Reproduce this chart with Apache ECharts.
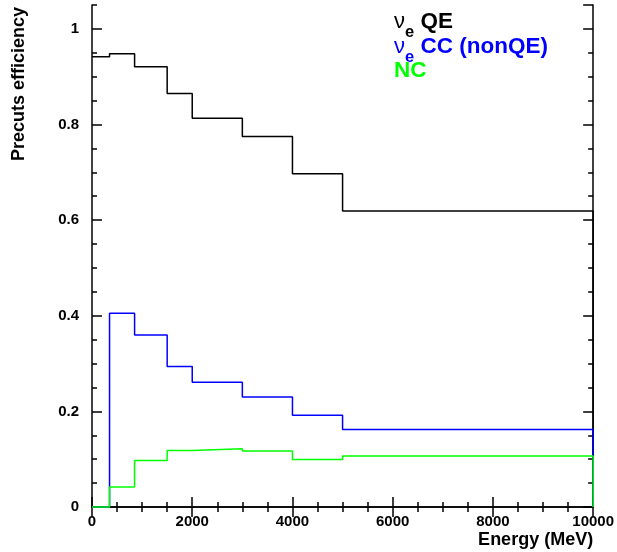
<!DOCTYPE html>
<html><head><meta charset="utf-8">
<script src="https://cdn.jsdelivr.net/npm/echarts@6/dist/echarts.min.js"></script>
<style>html,body{margin:0;padding:0;background:#fff}#c{width:617px;height:552px}</style>
</head><body><div id="c"></div>
<script>
// Histogram bin edges (MeV) and per-bin efficiencies
const binEdges = [0, 350, 850, 1500, 2000, 3000, 4000, 5000, 10000];
const qeEff = [0.9415, 0.948, 0.921, 0.865, 0.813, 0.775, 0.697, 0.619];
const ccEff = [0, 0.405, 0.360, 0.294, 0.261, 0.230, 0.192, 0.162];
const ncEff = [0, 0.042, 0.0975, 0.118, 0.122, 0.117, 0.0995, 0.1065];
const xTickLabels = ['0', '2000', '4000', '6000', '8000', '10000'];
const yTickLabels = ['0', '0.2', '0.4', '0.6', '0.8', '1'];
const seriesNames = ['νe QE', 'νe CC (nonQE)', 'NC'];
const seriesColors = ['#000000', '#0000ff', '#00ff00'];

const FONT = 'Liberation Sans, Arial, Helvetica, sans-serif';
const stepData = vals => binEdges.map((e, i) => [e, i < vals.length ? vals[i] : 0]);

const chart = echarts.init(document.getElementById('c'), null, {renderer: 'canvas'});
const lineAxis = {show: true, lineStyle: {color: '#000', width: 1.5}};
const yBase = {type: 'value', min: 0, max: 1.05, splitLine: {show: false}};
const xBase = {type: 'value', min: 0, max: 10000, interval: 2000, splitLine: {show: false}};

chart.setOption({
  animation: false,
  backgroundColor: '#fff',
  grid: {left: 92, right: 23, top: 5, bottom: 45},
  legend: {
    orient: 'vertical', left: 389, top: 9.5, padding: 0, itemGap: -6,
    itemWidth: 0, itemHeight: 0, icon: 'none', selectedMode: false,
    data: seriesNames.map((n, i) => ({name: n, textStyle: {color: seriesColors[i]}})),
    formatter: n => n.charAt(0) === 'ν'
      ? '{nu|ν}{sub|e}{b| ' + n.slice(3) + '}'
      : '{b|' + n + '}',
    textStyle: {
      fontFamily: FONT, fontSize: 22, fontWeight: 'bold',
      rich: {
        nu: {fontFamily: FONT, fontSize: 22, fontWeight: 'normal', lineHeight: 24},
        sub: {fontFamily: FONT, fontSize: 16.5, fontWeight: 'bold', lineHeight: 24, verticalAlign: 'top', padding: [14, 0, 0, 0]},
        b: {fontFamily: FONT, fontSize: 22.5, fontWeight: 'bold', lineHeight: 24}
      }
    }
  },
  xAxis: [
    Object.assign({}, xBase, {
      position: 'bottom',
      axisLine: lineAxis,
      axisTick: {inside: true, length: 10, lineStyle: {color: '#000', width: 1.5}},
      minorTick: {show: true, splitNumber: 4, length: 5, lineStyle: {color: '#000', width: 1.5}},
      axisLabel: {
        margin: 7, color: '#000', fontFamily: FONT, fontSize: 15, fontWeight: 'bold',
        formatter: v => xTickLabels[Math.round(v / 2000)]
      },
      name: 'Energy (MeV)', nameLocation: 'end', nameGap: 0,
      nameTextStyle: {color: '#000', fontFamily: FONT, fontSize: 18, fontWeight: 'bold',
        align: 'right', verticalAlign: 'top', padding: [24, 0, 0, 0]}
    }),
    Object.assign({}, xBase, {
      position: 'top',
      axisLine: lineAxis,
      axisTick: {inside: true, length: 10, lineStyle: {color: '#000', width: 1.5}},
      minorTick: {show: true, splitNumber: 4, length: 5, lineStyle: {color: '#000', width: 1.5}},
      axisLabel: {show: false}
    })
  ],
  yAxis: [
    Object.assign({}, yBase, {
      position: 'left', interval: 0.2,
      axisLine: lineAxis,
      axisTick: {inside: true, length: 10, lineStyle: {color: '#000', width: 1.5}},
      axisLabel: {
        margin: 13, showMaxLabel: false, color: '#000', fontFamily: FONT, fontSize: 15, fontWeight: 'bold',
        formatter: v => { const k = Math.round(v / 0.2); return Math.abs(v - k * 0.2) < 1e-6 ? (yTickLabels[k] || '') : ''; }
      },
      name: 'Precuts efficiency', nameLocation: 'end', nameRotate: 90, nameGap: 0,
      nameTextStyle: {color: '#000', fontFamily: FONT, fontSize: 18, fontWeight: 'bold',
        align: 'right', verticalAlign: 'bottom', padding: [0, 2, 64, 0]}
    }),
    Object.assign({}, yBase, {
      position: 'left', interval: 0.05,
      axisLine: {show: false},
      axisTick: {inside: true, length: 5, lineStyle: {color: '#000', width: 1.5}},
      axisLabel: {show: false}
    }),
    Object.assign({}, yBase, {
      position: 'right', interval: 0.2,
      axisLine: lineAxis,
      axisTick: {inside: true, length: 10, lineStyle: {color: '#000', width: 1.5}},
      axisLabel: {show: false}
    }),
    Object.assign({}, yBase, {
      position: 'right', interval: 0.05,
      axisLine: {show: false},
      axisTick: {inside: true, length: 5, lineStyle: {color: '#000', width: 1.5}},
      axisLabel: {show: false}
    })
  ],
  series: [qeEff, ccEff, ncEff].map((vals, i) => ({
    name: seriesNames[i], type: 'line', step: 'end', xAxisIndex: 0, yAxisIndex: 0,
    data: stepData(vals), showSymbol: false, symbol: 'none', clip: false,
    lineStyle: {color: seriesColors[i], width: 1.5},
    itemStyle: {color: seriesColors[i]}, z: 2 + i
  }))
});
</script></body></html>
